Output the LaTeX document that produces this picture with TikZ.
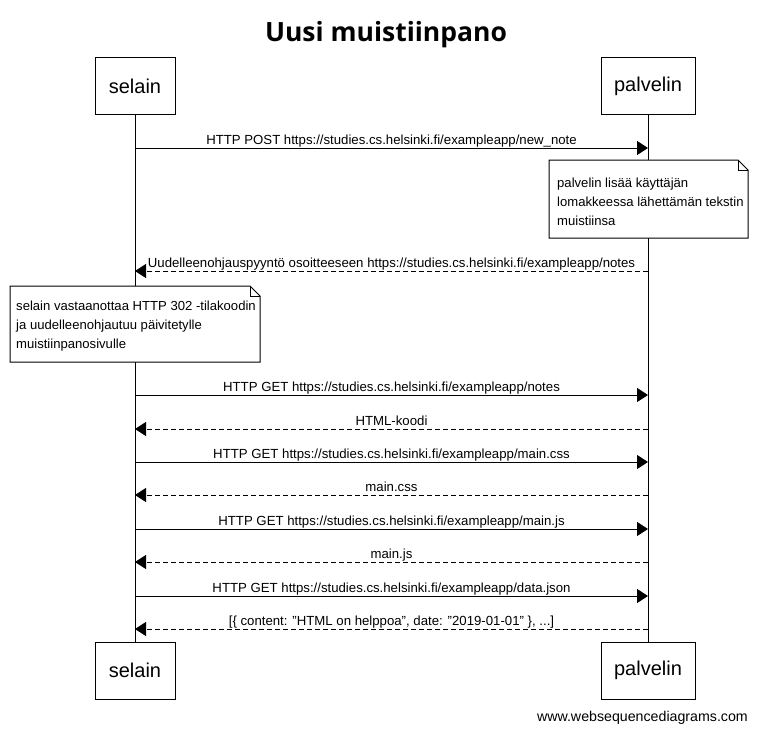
\documentclass[tikz,border=0pt]{standalone}
\usepackage{fontspec}
\setmainfont{Liberation Sans}[Ligatures=NoCommon]
\newfontfamily\titlefont{Open Sans}
\newcommand\dq{\symbol{34}}
\usetikzlibrary{arrows.meta}
\tikzset{
  actor/.style={draw, line width=1pt, minimum height=57pt, font=\fontsize{20}{24}\selectfont, inner sep=0pt},
  lifeline/.style={line width=1pt},
  msg/.style={line width=1pt, -{Triangle[length=11pt,width=14pt]}},
  reply/.style={msg, dash pattern=on 5pt off 3pt},
  lbl/.style={font=\fontsize{13.2}{16}\selectfont, inner sep=0pt, anchor=base, yshift=4pt},
  notebox/.style={line width=1pt, fill=white},
  notetext/.style={font=\fontsize{13.1}{19}\selectfont, inner sep=0pt, anchor=north west, align=left},
}
\begin{document}
\begin{tikzpicture}[x=1pt,y=-1pt]
\useasboundingbox (0,0) rectangle (757,733);
% title
\node[font=\titlefont\bfseries\fontsize{26.5}{30}\selectfont, inner sep=0pt] (title) at (386,35) {Uusi muistiinpano};
% actors
\node[actor, minimum width=80pt] (s1) at (135,86.5) {\raisebox{-2pt}{selain}};
\node[actor, minimum width=94pt] (p1) at (648,86.5) {\raisebox{-2pt}{palvelin}};
\node[actor, minimum width=80pt] (s2) at (135,670.5) {\raisebox{-2pt}{selain}};
\node[actor, minimum width=94pt] (p2) at (648,670.5) {\raisebox{-2pt}{palvelin}};
\draw[lifeline] (s1.south) -- (s2.north);
\draw[lifeline] (p1.south) -- (p2.north);
% coordinates on lifelines
\foreach \n/\y in {1/148,3/271,5/395,6/429,7/462,8/495,9/529,10/562,11/596,12/629}{
  \coordinate (sa\n) at (135,\y);
  \coordinate (pa\n) at (648,\y);
}
% messages
\draw[msg] (sa1) -- (pa1) node[lbl, midway] {HTTP POST https://studies.cs.helsinki.fi/exampleapp/new\_note};
% note 1
\draw[notebox] (549,160) -- (738,160) -- (748,170) -- (748,238) -- (549,238) -- cycle;
\draw[line width=1pt] (738,160) -- (738,170) -- (748,170);
\node[notetext] (n1) at (557,177.5) {palvelin lisää käyttäjän\\lomakkeessa lähettämän tekstin\\muistiinsa};
\draw[reply] (pa3) -- (sa3) node[lbl, midway] {Uudelleenohjauspyyntö osoitteeseen https://studies.cs.helsinki.fi/exampleapp/notes};
% note 2
\draw[notebox] (10,286) -- (250,286) -- (260,296) -- (260,362) -- (10,362) -- cycle;
\draw[line width=1pt] (250,286) -- (250,296) -- (260,296);
\node[notetext] (n2) at (16,300.5) {selain vastaanottaa HTTP 302 -tilakoodin\\ja uudelleenohjautuu päivitetylle\\muistiinpanosivulle};
\draw[msg] (sa5) -- (pa5) node[lbl, midway] {HTTP GET https://studies.cs.helsinki.fi/exampleapp/notes};
\draw[reply] (pa6) -- (sa6) node[lbl, midway] {HTML-koodi};
\draw[msg] (sa7) -- (pa7) node[lbl, midway] {HTTP GET https://studies.cs.helsinki.fi/exampleapp/main.css};
\draw[reply] (pa8) -- (sa8) node[lbl, midway] {main.css};
\draw[msg] (sa9) -- (pa9) node[lbl, midway] {HTTP GET https://studies.cs.helsinki.fi/exampleapp/main.js};
\draw[reply] (pa10) -- (sa10) node[lbl, midway] {main.js};
\draw[msg] (sa11) -- (pa11) node[lbl, midway] {HTTP GET https://studies.cs.helsinki.fi/exampleapp/data.json};
\draw[reply] (pa12) -- (sa12) node[lbl, midway] {[\{ content: \dq HTML on helppoa\dq, date: \dq 2019-01-01\dq\ \}, ...]};
% footer
\node[font=\fontsize{14.2}{16}\selectfont, inner sep=0pt, anchor=east] (footer) at (748,718) {www.websequencediagrams.com};
\end{tikzpicture}
\end{document}
